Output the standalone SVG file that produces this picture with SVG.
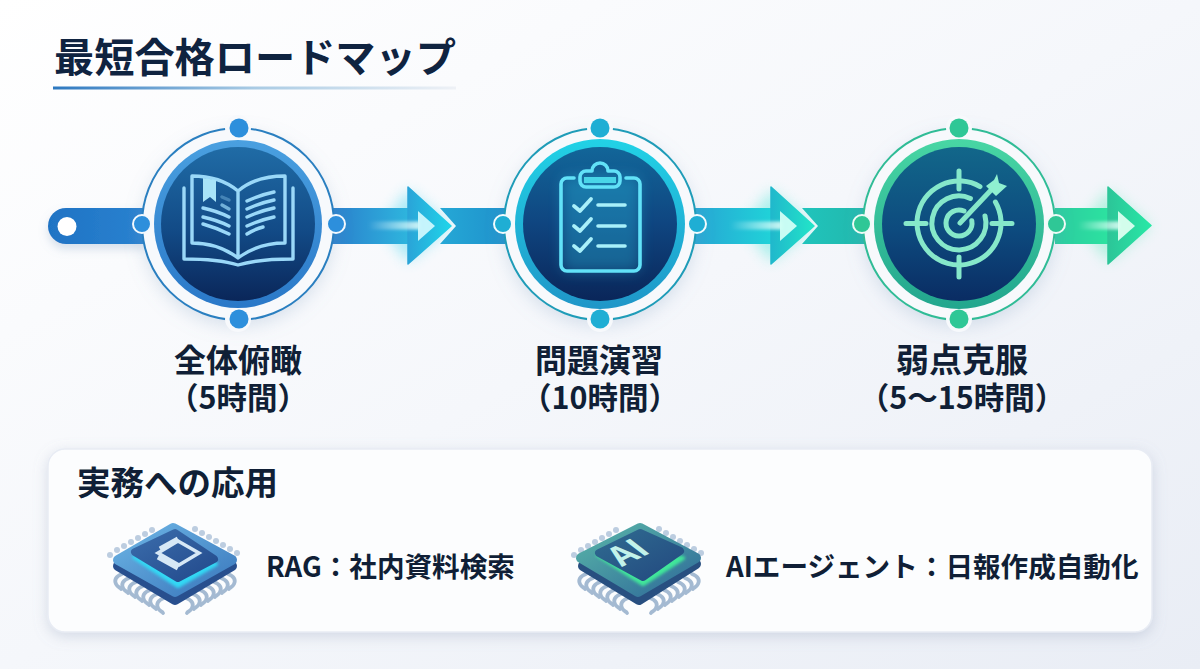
<svg xmlns="http://www.w3.org/2000/svg" xmlns:xlink="http://www.w3.org/1999/xlink" width="1200" height="669" viewBox="0 0 1200 669">
<style>
text{font-family:"Noto Sans CJK JP","Noto Sans",sans-serif;font-weight:700;fill:#0f2340}
.label{font-size:32px;text-anchor:middle;fill:#101f36}
.sub{font-size:30.5px;text-anchor:middle;fill:#101f36}
.app{font-size:27.6px;fill:#101f36}
.ic1{fill:none;stroke:#9ad8f8;stroke-width:3.4;stroke-linecap:round;stroke-linejoin:round}
.ic2{fill:none;stroke:#62e2f8;stroke-width:3.6;stroke-linecap:round;stroke-linejoin:round}
.ic3{fill:none;stroke:#86e8ca;stroke-width:5;stroke-linecap:round;stroke-linejoin:round}
.pin{fill:none;stroke:#a4bad2;stroke-width:3.8;stroke-linecap:round}
.pinb{fill:#bccde0}
.halo{fill:#f7f9fc;filter:url(#soft)}
.dotbg{fill:#f7f9fc}
</style>
<defs>
<linearGradient id="bg" x1="0" y1="0" x2="1" y2="1"><stop offset="0" stop-color="#ffffff"/><stop offset=".5" stop-color="#f5f7fb"/><stop offset="1" stop-color="#e9edf5"/></linearGradient>
<linearGradient id="ul" x1="0" x2="1"><stop offset="0" stop-color="#2d78c0"/><stop offset=".5" stop-color="#a9cbe4"/><stop offset="1" stop-color="#eef1f6"/></linearGradient>
<linearGradient id="d1" x1="0" y1="0" x2="0" y2="1"><stop offset="0" stop-color="#206ca6"/><stop offset=".55" stop-color="#124a86"/><stop offset="1" stop-color="#0a2659"/></linearGradient>
<linearGradient id="d2" x1="0" y1="0" x2="0" y2="1"><stop offset="0" stop-color="#126699"/><stop offset=".5" stop-color="#0f4580"/><stop offset="1" stop-color="#0a2659"/></linearGradient>
<linearGradient id="d3" x1="0" y1="0" x2="0" y2="1"><stop offset="0" stop-color="#12678a"/><stop offset=".55" stop-color="#0d4a7e"/><stop offset="1" stop-color="#0a2c63"/></linearGradient>
<linearGradient id="r1" x1="0" y1="0" x2="0" y2="1"><stop offset="0" stop-color="#4aa0e0"/><stop offset="1" stop-color="#2a78c8"/></linearGradient>
<linearGradient id="r2" x1="0" y1="0" x2="0" y2="1"><stop offset="0" stop-color="#22d2e6"/><stop offset="1" stop-color="#1f96c8"/></linearGradient>
<linearGradient id="r3" x1="0" y1="0" x2="0" y2="1"><stop offset="0" stop-color="#48d6a4"/><stop offset="1" stop-color="#22a68e"/></linearGradient>
<linearGradient id="sA" x1="0" x2="1"><stop offset="0" stop-color="#1f73c4"/><stop offset="1" stop-color="#2a82d0"/></linearGradient>
<linearGradient id="sB" gradientUnits="userSpaceOnUse" x1="332" x2="410" y1="0" y2="0"><stop offset="0" stop-color="#2a7fcc"/><stop offset="1" stop-color="#2eb6de"/></linearGradient>
<linearGradient id="hB" gradientUnits="userSpaceOnUse" x1="408" x2="452" y1="0" y2="0"><stop offset="0" stop-color="#2aa4d8"/><stop offset="1" stop-color="#1fd6ea"/></linearGradient>
<linearGradient id="sC" gradientUnits="userSpaceOnUse" x1="440" x2="505" y1="0" y2="0"><stop offset="0" stop-color="#25a8d6"/><stop offset="1" stop-color="#1f92cc"/></linearGradient>
<linearGradient id="sD" gradientUnits="userSpaceOnUse" x1="695" x2="771" y1="0" y2="0"><stop offset="0" stop-color="#27a6d4"/><stop offset="1" stop-color="#20d2d8"/></linearGradient>
<linearGradient id="hD" gradientUnits="userSpaceOnUse" x1="771" x2="815" y1="0" y2="0"><stop offset="0" stop-color="#20b8cc"/><stop offset="1" stop-color="#22e6c8"/></linearGradient>
<linearGradient id="sE" gradientUnits="userSpaceOnUse" x1="802" x2="866" y1="0" y2="0"><stop offset="0" stop-color="#20c4bc"/><stop offset="1" stop-color="#22b8ac"/></linearGradient>
<linearGradient id="sF" gradientUnits="userSpaceOnUse" x1="1055" x2="1108" y1="0" y2="0"><stop offset="0" stop-color="#2ccba0"/><stop offset="1" stop-color="#2ce2a0"/></linearGradient>
<linearGradient id="hF" gradientUnits="userSpaceOnUse" x1="1108" x2="1151" y1="0" y2="0"><stop offset="0" stop-color="#2cc598"/><stop offset="1" stop-color="#28e8a6"/></linearGradient>
<linearGradient id="wf" x1="0" x2="1"><stop offset="0" stop-color="#fff" stop-opacity="0"/><stop offset="1" stop-color="#e8fffb" stop-opacity=".85"/></linearGradient>
<linearGradient id="plate1" x1="0" y1="0" x2="1" y2="1"><stop offset="0" stop-color="#6cb4e4"/><stop offset="1" stop-color="#3a78bd"/></linearGradient>
<linearGradient id="plate2" x1="0" y1="0" x2="1" y2="1"><stop offset="0" stop-color="#58b4a8"/><stop offset="1" stop-color="#2f6b99"/></linearGradient>
<linearGradient id="blk1" x1="0" y1="0" x2="1" y2="1"><stop offset="0" stop-color="#3a6cab"/><stop offset="1" stop-color="#234a8c"/></linearGradient>
<linearGradient id="blk2" x1="0" y1="0" x2="1" y2="1"><stop offset="0" stop-color="#2f6a90"/><stop offset="1" stop-color="#234a80"/></linearGradient>
<filter id="soft" x="-30%" y="-30%" width="160%" height="160%"><feDropShadow dx="0" dy="6" stdDeviation="9" flood-color="#7f9cc0" flood-opacity=".28"/></filter>
<filter id="pill" x="-20%" y="-40%" width="140%" height="200%"><feDropShadow dx="0" dy="5" stdDeviation="5" flood-color="#7f9cc0" flood-opacity=".3"/></filter>
<filter id="panel" x="-5%" y="-15%" width="110%" height="130%"><feDropShadow dx="0" dy="4" stdDeviation="7" flood-color="#8898b4" flood-opacity=".3"/></filter>
<filter id="bl3" x="-40%" y="-40%" width="180%" height="180%"><feGaussianBlur stdDeviation="3"/></filter>
<filter id="bl7" x="-40%" y="-60%" width="180%" height="220%"><feGaussianBlur stdDeviation="7"/></filter>
<filter id="bl2" x="-40%" y="-80%" width="180%" height="260%"><feGaussianBlur stdDeviation="1.8"/></filter>
<g id="chipPins">
<g>
<path class="pin" d="M122,574c-6,2-8,6-6,10s4,3 5,5"/><path class="pin" d="M129,578c-6,2-8,6-6,10s4,3 5,5"/><path class="pin" d="M136,582c-6,2-8,6-6,10s4,3 5,5"/><path class="pin" d="M143,586c-6,2-8,6-6,10s4,3 5,5"/><path class="pin" d="M150,590c-6,2-8,6-6,10s4,3 5,5"/><path class="pin" d="M157,594c-6,2-8,6-6,10s4,3 5,5"/><path class="pin" d="M164,598c-6,2-8,6-6,10s4,3 5,5"/>
<path class="pin" d="M186,598c6,2 8,6 6,10s-4,3-5,5"/><path class="pin" d="M193,594c6,2 8,6 6,10s-4,3-5,5"/><path class="pin" d="M200,590c6,2 8,6 6,10s-4,3-5,5"/><path class="pin" d="M207,586c6,2 8,6 6,10s-4,3-5,5"/><path class="pin" d="M214,582c6,2 8,6 6,10s-4,3-5,5"/><path class="pin" d="M221,578c6,2 8,6 6,10s-4,3-5,5"/><path class="pin" d="M228,574c6,2 8,6 6,10s-4,3-5,5"/>
</g>
<g class="pinb"><circle cx="110" cy="555" r="3"/><circle cx="117" cy="550" r="3"/><circle cx="124" cy="546" r="3"/><circle cx="131" cy="542" r="3"/><circle cx="138" cy="538" r="3"/><circle cx="145" cy="534" r="3"/><circle cx="152" cy="530" r="3"/><circle cx="195" cy="529" r="3"/><circle cx="202" cy="533" r="3"/><circle cx="209" cy="537" r="3"/><circle cx="216" cy="541" r="3"/><circle cx="223" cy="545" r="3"/><circle cx="230" cy="549" r="3"/><circle cx="237" cy="553" r="3"/></g>
</g>
</defs>
<rect width="1200" height="669" fill="url(#bg)"/>
<g id="title">
<text x="54" y="72" font-size="40.2">最短合格ロードマップ</text>
<rect x="53" y="86.500" width="403" height="3" fill="url(#ul)"/>
</g>
<g id="connectors">
<path d="M66,208H145V244H66a18,18 0 0 1 0-36Z" fill="url(#sA)" filter="url(#pill)"/>
<g id="arrow1">
<path d="M380,226L408,190L452,226L408,262Z" fill="#4ed8f0" opacity=".45" filter="url(#bl7)"/>
<polygon points="332,208 408,208 408,187 451,226 408,264 408,244 332,244" fill="url(#sB)"/>
<polygon points="408,187 451,226 408,264" fill="url(#hB)" stroke="url(#hB)" stroke-width="1.500" stroke-linejoin="round"/>
<rect x="368" y="221.500" width="52" height="8" fill="url(#wf)" filter="url(#bl2)"/>
<polygon points="418,211 435,226 418,241" fill="#cdf8fd" opacity=".95"/>
</g>
<polygon id="bar2" points="440,208 505,208 505,244 440,244 456,226" fill="url(#sC)"/>
<g id="arrow2">
<path d="M742,226L771,190L815,226L771,262Z" fill="#3fe6d6" opacity=".4" filter="url(#bl7)"/>
<polygon points="695,208 771,208 771,187 814,226 771,264 771,244 695,244" fill="url(#sD)"/>
<polygon points="771,187 814,226 771,264" fill="url(#hD)" stroke="url(#hD)" stroke-width="1.500" stroke-linejoin="round"/>
<rect x="730" y="221.500" width="52" height="8" fill="url(#wf)" filter="url(#bl2)"/>
<polygon points="780,211 797,226 780,241" fill="#d2fff6" opacity=".95"/>
</g>
<polygon id="bar3" points="802,208 866,208 866,244 802,244 818,226" fill="url(#sE)"/>
<g id="arrow3">
<path d="M1080,226L1108,190L1151,226L1108,262Z" fill="#3feab0" opacity=".35" filter="url(#bl7)"/>
<polygon points="1055,208 1108,208 1108,187 1151,225.500 1108,264 1108,244 1055,244" fill="url(#sF)"/>
<polygon points="1108,187 1151,225.500 1108,264" fill="url(#hF)" stroke="url(#hF)" stroke-width="1.500" stroke-linejoin="round"/>
<rect x="1078" y="221.500" width="42" height="8" fill="url(#wf)" filter="url(#bl2)"/>
<polygon points="1118,211 1135,226 1118,241" fill="#dcfff0" opacity=".95"/>
</g>
<circle cx="67" cy="226.500" r="9.500" fill="#fff"/>
</g>
<g id="node1">
<circle class="halo" cx="238" cy="224" r="96"/>
<circle cx="238" cy="224" r="96" fill="none" stroke="#2a7fc0" stroke-width="2"/>
<circle class="dotbg" cx="238" cy="128" r="13"/><circle class="dotbg" cx="238" cy="319" r="13"/>
<circle cx="238" cy="224" r="84" fill="url(#r1)"/>
<circle cx="238" cy="224" r="77" fill="url(#d1)"/>
<g class="ic1">
<path d="M184,188V259C205,259 225,261 238,265C251,261 271,259 293,259V188"/>
<path d="M238,191C225,180 208,176 192,176V243C210,243 226,249 238,258C250,249 266,243 285,243V176C268,176 251,180 238,191V258"/>
<path d="M203,208Q217,211 229,217M203,217Q217,220 229,226M203,224Q217,228 229,234M247,201Q260,195 274,192M247,209Q260,203 274,200M247,217Q260,211 274,208M247,226Q260,220 274,217M247,234Q255,229 263,227"/>
<path d="M222,205L229,209" opacity=".7"/>
<path d="M222,197L229,200" opacity=".35"/>
</g>
<polygon points="203,178 216,180 216,202 210,197 203,202" fill="#a8e4f8"/>
<g fill="#2d8fdc"><circle cx="239" cy="128" r="9.500"/><circle cx="239" cy="319" r="9.500"/></g>
<g fill="#2d8fdc" stroke="#f2f8fd" stroke-width="2"><circle cx="142" cy="224" r="9"/><circle cx="336" cy="224" r="9"/></g>
<text class="label" x="238" y="372">全体俯瞰</text>
<text class="sub" x="238" y="409">（5時間）</text>
</g>
<g id="node2">
<circle class="halo" cx="600" cy="224" r="96"/>
<circle cx="600" cy="224" r="96" fill="none" stroke="#1f9cb8" stroke-width="2"/>
<circle class="dotbg" cx="600" cy="128" r="13"/><circle class="dotbg" cx="600" cy="319" r="13"/>
<circle cx="600" cy="224" r="85" fill="url(#r2)"/>
<circle cx="600" cy="224" r="77" fill="url(#d2)"/>
<rect x="562" y="176" width="78" height="96" rx="8" fill="#2fd0f0" opacity=".3" filter="url(#bl7)"/>
<g class="ic2">
<path d="M574,178H567a6,6 0 0 0-6,6V265a6,6 0 0 0 6,6H634a6,6 0 0 0 6-6V184a6,6 0 0 0-6-6H626"/>
<path d="M586,171H592a8,8 0 0 1 16,0H614a6,6 0 0 1 6,6V181a6,6 0 0 1-6,6H586a6,6 0 0 1-6-6V177a6,6 0 0 1 6-6Z"/>
<path d="M574,206L580,211L591,199M574,226L580,231L591,219M574,246L580,251L591,239" stroke="#a8f0fa" stroke-width="3.800"/>
<path d="M598,205H625M598,226H625M598,246H625" stroke="#a8f0fa"/>
</g>
<rect x="584" y="177" width="32" height="6" fill="#49d6e8"/>
<g fill="#1faed4"><circle cx="600" cy="128" r="9.500"/><circle cx="600" cy="319" r="9.500"/></g>
<g fill="#1faed4" stroke="#f2fbfd" stroke-width="2"><circle cx="503" cy="224" r="9"/><circle cx="697" cy="224" r="9"/></g>
<text class="label" x="599" y="372">問題演習</text>
<text class="sub" x="600" y="409">（10時間）</text>
</g>
<g id="node3">
<circle class="halo" cx="959" cy="224" r="96"/>
<circle cx="959" cy="224" r="96" fill="none" stroke="#30bc96" stroke-width="2"/>
<circle class="dotbg" cx="959" cy="128" r="13"/><circle class="dotbg" cx="959" cy="319" r="13"/>
<circle cx="959" cy="224" r="85" fill="url(#r3)"/>
<circle cx="959" cy="224" r="77" fill="url(#d3)"/>
<g class="ic3">
<path d="M995.400,202A42,42 0 1 1 980,186.600"/>
<path d="M985,216A27,27 0 1 1 970.400,198.500"/>
<path d="M971.800,220.700A13,13 0 1 1 964,211"/>
<path d="M959,171V189M959,257V277M906,223.500H926M992,223.500H1012M960,223L993,188"/>
</g>
<polygon points="986,186 994,180 997,174 999,183 1007,186 996,196" fill="#8ff0d0"/>
<g fill="#2fc796"><circle cx="959" cy="128" r="9.500"/><circle cx="959" cy="319" r="9.500"/></g>
<g fill="#2fc796" stroke="#eefbf6" stroke-width="2"><circle cx="862" cy="224" r="9"/><circle cx="1056" cy="224" r="9"/></g>
<text class="label" x="962" y="372" style="font-size:33px">弱点克服</text>
<text class="sub" x="962" y="409">（5〜15時間）</text>
</g>
<g id="panel-app">
<rect x="48" y="449" width="1104" height="183" rx="17" fill="#fcfdfe" stroke="#e8ecf4" stroke-width="1.500" filter="url(#panel)"/>
<text x="77" y="495" font-size="33.500" style="fill:#101f36">実務への応用</text>
</g>
<g id="chip1">
<use href="#chipPins"/>
<polygon points="173,530 118,566 175,600 232,566" fill="#284f8e" stroke="#284f8e" stroke-width="10" stroke-linejoin="round"/>
<polygon points="173,528 118,560 175,592 232,560" fill="url(#plate1)" stroke="url(#plate1)" stroke-width="10" stroke-linejoin="round"/>
<polygon points="134,557 178,586 216,564" fill="#30d8f4" stroke="#30d8f4" stroke-width="4" stroke-linejoin="round" filter="url(#bl2)"/>
<polygon points="175,533 135,552 178,578 214,559" fill="url(#blk1)" stroke="url(#blk1)" stroke-width="8" stroke-linejoin="round"/>
<g fill="none" stroke="#d6e8f6" stroke-width="3.500"><path d="M158,553L178,541L199,553L179,565Z"/><path d="M158,557L178,568" stroke-width="5"/><path d="M160,549L178,539" stroke-width="5"/></g>
</g>
<g id="chip1-label"><text class="app" x="266" y="577">RAG：社内資料検索</text></g>
<g id="chip2">
<use href="#chipPins" x="464"/>
<polygon points="638,530 583,566 639,600 696,564" fill="#284f80" stroke="#284f80" stroke-width="10" stroke-linejoin="round"/>
<polygon points="640,528 581,558 638,592 696,558" fill="url(#plate2)" stroke="url(#plate2)" stroke-width="10" stroke-linejoin="round"/>
<polygon points="598,555 643,584 683,558" fill="#3fe69a" stroke="#3fe69a" stroke-width="4" stroke-linejoin="round" filter="url(#bl2)"/>
<polygon points="640,533 599,553 643,577 680,551" fill="url(#blk2)" stroke="url(#blk2)" stroke-width="8" stroke-linejoin="round"/>
<text transform="matrix(.86 -.42 .72 .56 622 567)" font-size="36" style="fill:#c2f2ea">AI</text>
</g>
<g id="chip2-label"><text class="app" x="726" y="577">AIエージェント：日報作成自動化</text></g>
</svg>
